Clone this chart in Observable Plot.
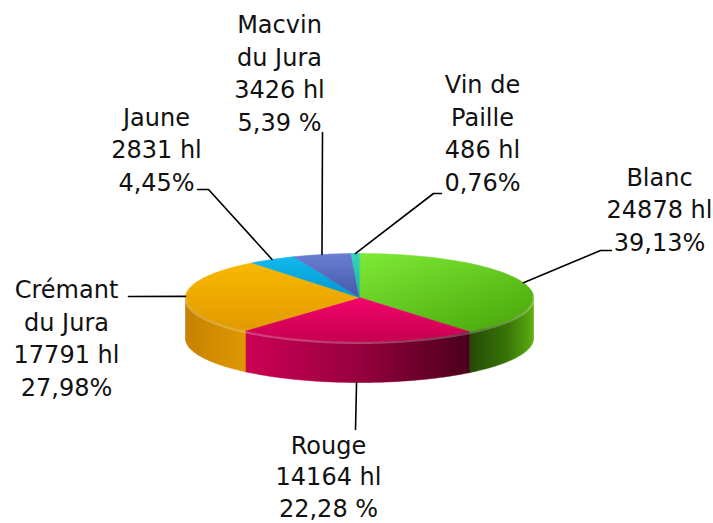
<!DOCTYPE html>
<html><head><meta charset="utf-8">
<script src="https://cdn.jsdelivr.net/npm/d3@7"></script>
<script src="https://cdn.jsdelivr.net/npm/@observablehq/plot@0.6"></script>
<style>html,body{margin:0;padding:0;background:#fff;}</style>
</head><body><div id="chart"></div>
<script>
// ---- data ----
const categories = ["Blanc", "Rouge", "Crémant\ndu Jura", "Jaune", "Macvin\ndu Jura", "Vin de\nPaille"];
const volumes = [24878, 14164, 17791, 2831, 3426, 486];
const percentLabels = ["39,13%", "22,28 %", "27,98%", "4,45%", "5,39 %", "0,76%"];
const unit = "hl";

// ---- layout / styles ----
const W = 713, H = 523;
const cx = 359, cy = 297, rx = 174, ry = 44, depth = 41;
const labelX = [659, 328, 66, 156, 279, 482];
const labelLastBaseline = [250, 516, 395, 190, 130, 190];
const labelLineHeight = [1.35, 1.3, 1.35, 1.35, 1.35, 1.35];
const leaderTail = [[[600, 250], [611, 250]], [[355, 429]], [[128, 296]], [[208, 189], [197, 189]], [[322, 132]], [[433, 193], [441, 193]]];
const leaderFromBottom = [false, true, false, false, false, false];
const topStops = [
  [[0, "#7eea36"], [1, "#4caa0c"]],
  [[0, "#f2046c"], [1, "#c8004f"]],
  [[0, "#f8b800"], [1, "#e29a00"]],
  [[0, "#12baee"], [1, "#0096cf"]],
  [[0, "#6a7ed4"], [1, "#4458a8"]],
  [[0, "#34d4bc"], [1, "#16b49c"]]
];
const sideStops = [
  [[0, "#234a04"], [0.6, "#3a7408"], [1, "#5cae12"]],
  [[0, "#cc0054"], [0.5, "#98003e"], [1, "#4a001a"]],
  [[0, "#c68200"], [1, "#de9800"]],
  [[0, "#0090c0"], [1, "#0090c0"]],
  [[0, "#4050a0"], [1, "#4050a0"]],
  [[0, "#10a090"], [1, "#10a090"]]
];

// ---- geometry from values ----
const arcs = d3.pie().sort(null).value(d => d)(volumes);
const pt = (a, dy = 0, k = 1) => ({x: cx + rx * k * Math.sin(a), y: cy - ry * k * Math.cos(a) + dy});
const arcPts = (a0, a1, dy = 0, k = 1) => {
  const n = Math.max(2, Math.ceil(Math.abs(a1 - a0) / (Math.PI / 180)) + 1);
  return d3.range(n).map(j => pt(a0 + (a1 - a0) * j / (n - 1), dy, k));
};
const shadowPts = [...arcPts(-Math.PI / 2, Math.PI / 2, 0, 1.03), ...arcPts(Math.PI / 2, 3 * Math.PI / 2, depth, 1.03)];

const marks = [];
marks.push(Plot.line(shadowPts, {x: "x", y: "y", curve: "linear-closed", fill: "#555", fillOpacity: 0.85, stroke: "none", dy: 6, ariaLabel: "shadow"}));
arcs.forEach((a, i) => {
  const b0 = Math.max(a.startAngle, Math.PI / 2), b1 = Math.min(a.endAngle, 3 * Math.PI / 2);
  if (b0 < b1) {
    const side = [...arcPts(b0, b1, 0), ...arcPts(b1, b0, depth)];
    marks.push(Plot.line(side, {x: "x", y: "y", curve: "linear-closed", fill: `url(#side${i})`, stroke: `url(#side${i})`, strokeWidth: 0.6}));
  }
});
arcs.forEach((a, i) => {
  const top = [{x: cx, y: cy}, ...arcPts(a.startAngle, a.endAngle, 0)];
  marks.push(Plot.line(top, {x: "x", y: "y", curve: "linear-closed", fill: `url(#top${i})`, stroke: `url(#top${i})`, strokeWidth: 0.6}));
});
// rim bevel highlight
marks.push(Plot.line(arcPts(Math.PI / 2 - 0.05, 3 * Math.PI / 2 + 0.05, 1.5), {x: "x", y: "y", stroke: "#fff", strokeOpacity: 0.25, strokeWidth: 2}));
// leaders
arcs.forEach((a, i) => {
  const mid = (a.startAngle + a.endAngle) / 2;
  const start = pt(mid, leaderFromBottom[i] ? depth : 0);
  const pts = [start, ...leaderTail[i].map(([x, y]) => ({x, y}))];
  marks.push(Plot.line(pts, {x: "x", y: "y", stroke: "#000", strokeWidth: 1.6}));
});
// labels
categories.forEach((c, i) => {
  marks.push(Plot.text([{text: `${c}\n${volumes[i]} ${unit}\n${percentLabels[i]}`, x: labelX[i], y: labelLastBaseline[i]}],
    {x: "x", y: "y", text: "text", lineAnchor: "bottom", textAnchor: "middle",
     lineHeight: labelLineHeight[i], fontSize: 24, fontFamily: "DejaVu Sans", fill: "#111"}));
});

const svg = Plot.plot({
  width: W, height: H, margin: 0,
  x: {domain: [0, W], range: [0, W], axis: null},
  y: {domain: [0, H], range: [0, H], axis: null},
  style: {background: "#fff", overflow: "visible"},
  marks
});

const defs = d3.select(svg).insert("defs", ":first-child");
const lin = (id, x2, y2, stops) => {
  const g = defs.append("linearGradient").attr("id", id).attr("x1", 0).attr("y1", 0).attr("x2", x2).attr("y2", y2);
  stops.forEach(([o, c]) => g.append("stop").attr("offset", o).attr("stop-color", c));
};
topStops.forEach((s, i) => lin(`top${i}`, i === 0 ? 0.8 : 0, 1, s));
sideStops.forEach((s, i) => lin(`side${i}`, 1, 0, s));
defs.append("filter").attr("id", "blur").attr("x", "-20%").attr("y", "-30%").attr("width", "140%").attr("height", "160%")
  .append("feGaussianBlur").attr("stdDeviation", 3.5);
d3.select(svg).select('g[aria-label="shadow"]').attr("filter", "url(#blur)");

document.getElementById("chart").appendChild(svg);
</script></body></html>
